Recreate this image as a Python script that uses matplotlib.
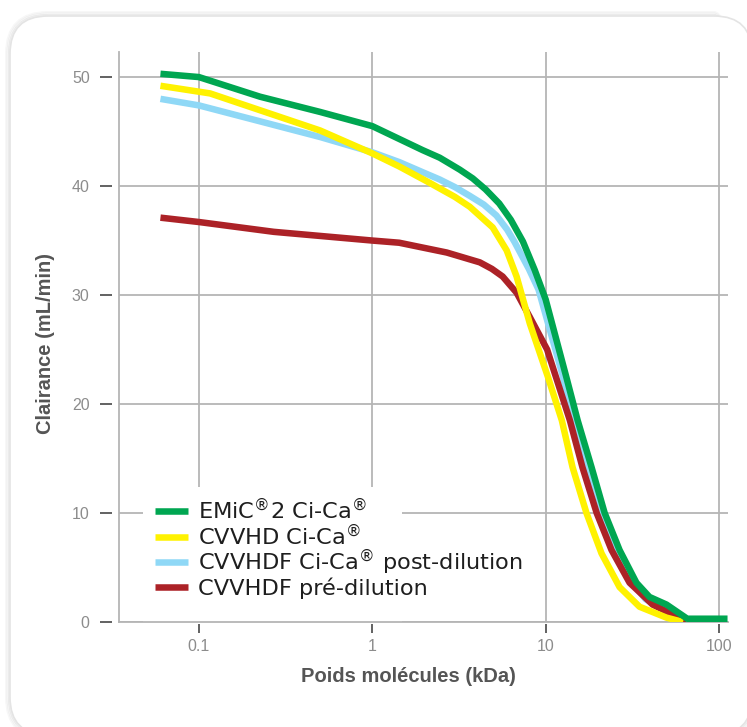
import matplotlib
matplotlib.use('Agg')
import matplotlib.pyplot as plt
import matplotlib.patches as mpatches
import matplotlib.transforms as mtransforms
from matplotlib.legend import Legend
from matplotlib.ticker import NullLocator

# Données (poids moléculaire en kDa, clairance en mL/min)
emic_x = [0.06, 0.1, 0.225, 0.5, 1.0, 1.95, 2.45, 3.2, 3.8, 4.5, 5.4, 6.3, 7.4, 8.65,
          10.0, 13.2, 15.3, 18.4, 21.9, 26.7, 33.4, 39.7, 49.8, 65.6, 112]
emic_y = [50.3, 50.0, 48.2, 46.8, 45.5, 43.3, 42.6, 41.5, 40.7, 39.7, 38.4, 36.9, 34.9, 32.3,
          29.6, 22.4, 18.5, 14.2, 10.0, 6.6, 3.6, 2.3, 1.6, 0.3, 0.3]

cvvhd_x = [0.06, 0.116, 0.5, 1.0, 1.43, 2.14, 3.0, 3.65, 4.95, 5.96, 6.8, 8.1,
           10.3, 12.4, 14.3, 17.2, 21.0, 26.7, 34.8, 49.8, 62]
cvvhd_y = [49.2, 48.5, 45.1, 43.0, 41.8, 40.3, 39.0, 38.1, 36.2, 34.1, 31.7, 27.4,
           22.5, 18.5, 14.2, 10.0, 6.3, 3.2, 1.4, 0.4, 0.0]

post_x = [0.06, 0.1, 0.5, 1.0, 1.43, 2.0, 2.45, 3.0, 3.65, 4.4, 5.2, 6.0, 6.6, 8.0, 9.1,
          12.5, 14.5, 17.5, 20.8, 25.4, 31.7, 37.7, 47, 60, 64]
post_y = [48.0, 47.4, 44.5, 43.1, 42.2, 41.2, 40.6, 39.9, 39.1, 38.3, 37.3, 36.0, 34.9, 32.4, 30.5,
          22.7, 18.5, 14.2, 10.0, 6.6, 3.6, 2.1, 1.2, 0.2, 0.1]

pre_x = [0.06, 0.1, 0.27, 1.0, 1.43, 2.69, 4.17, 4.9, 5.65, 6.81, 8.09, 10.2, 13.8, 16.3,
         19.7, 24.0, 30.5, 41.4, 59.2, 65]
pre_y = [37.1, 36.7, 35.8, 35.0, 34.8, 33.9, 33.0, 32.4, 31.7, 30.2, 28.0, 25.0, 18.5, 14.2,
         10.0, 6.6, 3.6, 1.6, 0.4, 0.1]

x_ticks = [0.1, 1, 10, 100]
x_tick_labels = ['0.1', '1', '10', '100']
y_ticks = [0, 10, 20, 30, 40, 50]

labels = ['EMiC$^{®}$2 Ci-Ca$^{®}$', 'CVVHD Ci-Ca$^{®}$',
          'CVVHDF Ci-Ca$^{®}$ post-dilution', 'CVVHDF pré-dilution']
colors = ['#00a651', '#fff200', '#8fd8f6', '#ac2227']

fig = plt.figure(figsize=(7.47, 7.27), dpi=100)
fig.patch.set_facecolor('white')

# Carte à coins arrondis (coordonnées en pixels), derrière les axes
px = mtransforms.IdentityTransform()
for i, a in enumerate([0.03, 0.04, 0.06]):
    grow = 4 - i * 1.5
    fig.add_artist(mpatches.FancyBboxPatch(
        (10 - grow, -8 - grow), 742 + 2 * grow, 719 + 2 * grow,
        boxstyle=f'round,pad=0,rounding_size={38 + grow}',
        transform=px, facecolor='none', edgecolor=(0, 0, 0, a), lw=1.5, zorder=-10))
fig.add_artist(mpatches.FancyBboxPatch(
    (10, -8), 742, 719, boxstyle='round,pad=0,rounding_size=38',
    transform=px, facecolor='white', edgecolor='#e4e4e4', lw=1.2, zorder=-9))

ax = fig.add_axes([119 / 747, 105 / 727, 609 / 747, 570 / 727])
ax.set_facecolor('none')
ax.set_xscale('log')
ax.set_xlim(0.0346, 112.7)
ax.set_ylim(0, 52.3)

grid_c = '#b5b5b5'
ax.set_axisbelow(True)
ax.grid(True, color=grid_c, lw=1.3)
ax.set_xticks(x_ticks, labels=x_tick_labels)
ax.xaxis.set_minor_locator(NullLocator())
ax.set_yticks(y_ticks)

for s in ['top', 'right']:
    ax.spines[s].set_visible(False)
ax.spines['left'].set_position(('outward', 5))
ax.spines['left'].set_visible(False)
ax.spines['bottom'].set_position(('outward', 1.5))
ax.spines['bottom'].set_visible(False)
ax.axvline(ax.get_xlim()[0], color=grid_c, lw=1.3, clip_on=False)
ax.axhline(0, color=grid_c, lw=1.3, clip_on=False)

ax.tick_params(axis='y', length=8.6, width=1.3, color='#555555', pad=7.5,
               labelsize=11.5, labelcolor='#8c8c8c')
ax.tick_params(axis='x', length=6.5, width=1.3, color='#555555', pad=4.5,
               labelsize=11.5, labelcolor='#8c8c8c')
for t in ax.get_xticklabels() + ax.get_yticklabels():
    t.set_family('Liberation Sans')

# Fond blanc de la légende
ax.add_patch(mpatches.Rectangle((0.039, 0.0), 0.426, 0.237, transform=ax.transAxes,
                                facecolor='white', edgecolor='none', zorder=1))

lw = 4.7
style = dict(lw=lw, solid_capstyle='butt', solid_joinstyle='round')
l_post, = ax.plot(post_x, post_y, color=colors[2], zorder=2, **style)
l_pre, = ax.plot(pre_x, pre_y, color=colors[3], zorder=3, **style)
l_cvvhd, = ax.plot(cvvhd_x, cvvhd_y, color=colors[1], zorder=4, **style)
l_emic, = ax.plot(emic_x, emic_y, color=colors[0], zorder=5, **style)

# Légende : une ligne par entrée pour contrôler l'espacement
row_y = [0.1965, 0.151, 0.105, 0.0596]
for h, lab, yy in zip([l_emic, l_cvvhd, l_post, l_pre], labels, row_y):
    leg = Legend(ax, [h], [lab], loc='center left', bbox_to_anchor=(0.059, yy),
                 frameon=False, borderpad=0, borderaxespad=0,
                 handlelength=1.45, handletextpad=0.47,
                 prop={'family': 'DejaVu Sans', 'size': 16.2})
    leg.get_texts()[0].set_color('#1e1e1e')
    ax.add_artist(leg)

ax.set_xlabel('Poids molécules (kDa)', fontsize=14.5, fontweight='bold',
              color='#555555', family='Liberation Sans')
ax.set_ylabel('Clairance (mL/min)', fontsize=14.5, fontweight='bold',
              color='#555555', family='Liberation Sans')
ax.xaxis.label.set_va('center')
ax.yaxis.label.set_va('center')
ax.xaxis.set_label_coords(0.475, -0.095)
ax.yaxis.set_label_coords(-0.1215, 0.488)

fig.savefig('out.png', dpi=100)
